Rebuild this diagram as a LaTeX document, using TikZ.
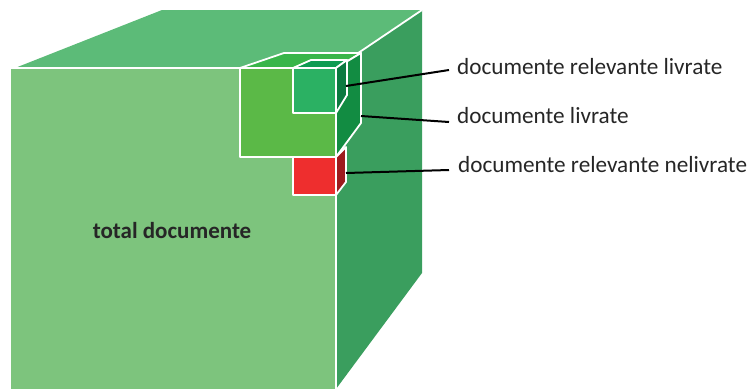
\documentclass[tikz,border=0pt]{standalone}
\usepackage{fontspec}
\setmainfont{Carlito}
\definecolor{frontgreen}{HTML}{7DC47D}
\definecolor{topgreen}{HTML}{5CBB78}
\definecolor{sidegreen}{HTML}{3A9E5E}
\definecolor{midfront}{HTML}{5BB947}
\definecolor{midtop}{HTML}{39B54A}
\definecolor{midside}{HTML}{128C42}
\definecolor{smallfront}{HTML}{2BB163}
\definecolor{smalltop}{HTML}{0F9B52}
\definecolor{smallside}{HTML}{0B7A40}
\definecolor{redfront}{HTML}{EE2E2E}
\definecolor{redside}{HTML}{9E1B1E}
\tikzset{
  face/.style={draw=white,line width=1.8pt,line join=round},
  lead/.style={draw=black,line width=2pt},
  caption/.style={anchor=west,font=\fontsize{23.2}{28}\selectfont,inner sep=0pt,text=black!85}
}
\begin{document}
\begin{tikzpicture}[x=1pt,y=-1pt]
      \useasboundingbox (0, 0) rectangle (748, 389);
      % large cube
      \fill[topgreen] (15, 68) -- (162, 10) -- (422, 10) -- (336, 68) -- cycle;
      \fill[sidegreen] (336, 68) -- (422, 10) -- (422, 273) -- (336, 389) -- cycle;
      \fill[frontgreen] (11, 68) rectangle (336, 389);
      \draw[white,line width=1.8pt] (11, 68) -- (336, 68) -- (336, 389);
      \draw[white,line width=1.8pt] (336, 68) -- (422, 10);
      % medium box
      \draw[face,fill=midtop] (240, 68) -- (284, 53) -- (361, 53) -- (336, 68) -- cycle;
      \draw[face,fill=midside] (336, 68) -- (361, 53) -- (361, 123) -- (336, 157) -- cycle;
      \draw[face,fill=midfront] (240, 68) rectangle (336, 157);
      % small box
      \draw[face,fill=smalltop] (293, 68) -- (311, 60) -- (347, 60) -- (336, 68) -- cycle;
      \draw[face,fill=smallside] (336, 68) -- (347, 60) -- (347, 95) -- (336, 113) -- cycle;
      \draw[face,fill=smallfront] (293, 68) rectangle (336, 113);
      % red box
      \draw[face,fill=redside] (336, 157) -- (346, 147) -- (346, 182) -- (336, 195) -- cycle;
      \draw[face,fill=redfront] (293, 157) rectangle (336, 195);
      % labels
      \node[font=\fontsize{23}{28}\selectfont\bfseries,inner sep=0pt,text=black!85] (total) at (172, 231) {total documente};
      \node[caption] (relliv) at (457, 67) {documente relevante livrate};
      \node[caption] (liv) at (457, 116) {documente livrate};
      \node[caption] (relnel) at (458, 165) {documente relevante nelivrate};
      \coordinate (smallend) at (346, 86);
      \coordinate (midend) at (361, 116);
      \coordinate (redend) at (346, 173);
      \draw[lead] (smallend) -- ([xshift=-8pt,yshift=-3pt]relliv.west);
      \draw[lead] (midend) -- ([xshift=-8pt,yshift=-6pt]liv.west);
      \draw[lead] (redend) -- ([xshift=-9pt,yshift=-5pt]relnel.west);
    \end{tikzpicture}
\end{document}
